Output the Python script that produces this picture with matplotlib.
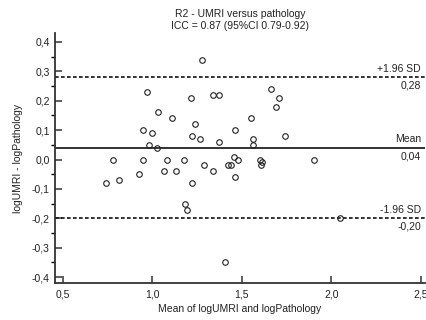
import numpy as np
import matplotlib
matplotlib.use('Agg')
import matplotlib.pyplot as plt
from matplotlib.ticker import MultipleLocator, FuncFormatter

# Bland-Altman data
mean_vals = [1.28, 0.97, 1.215, 1.34, 1.37, 1.66, 1.71, 1.69, 1.035, 1.11,
             1.55, 1.24, 0.95, 1.00, 1.46, 1.22, 1.265, 1.37, 1.565, 1.565,
             1.74, 0.98, 1.025, 0.78, 0.95, 1.08, 1.18, 0.74, 0.815, 0.925,
             1.065, 1.13, 1.22, 1.29, 1.34, 1.42, 1.44, 1.455, 1.48, 1.46,
             1.185, 1.195, 1.60, 1.61, 1.605, 1.90, 2.05, 1.405]
diff_vals = [0.34, 0.23, 0.21, 0.22, 0.22, 0.24, 0.21, 0.18, 0.16, 0.14,
             0.14, 0.12, 0.10, 0.09, 0.10, 0.08, 0.07, 0.06, 0.07, 0.05,
             0.08, 0.05, 0.04, 0.0, 0.0, 0.0, 0.0, -0.08, -0.07, -0.05,
             -0.04, -0.04, -0.08, -0.02, -0.04, -0.02, -0.02, 0.01, 0.0, -0.06,
             -0.15, -0.17, 0.0, -0.01, -0.02, 0.0, -0.20, -0.35]
mean_diff = 0.04
upper_loa = 0.28
lower_loa = -0.20

plt.rcParams['font.family'] = ['Liberation Sans', 'DejaVu Sans']
txt = '#222222'
fs = 7.5

fig = plt.figure(figsize=(4.26, 3.2), dpi=100)
ax = fig.add_axes([0.130, 0.1156, 0.867, 0.781])

ax.plot(mean_vals, diff_vals, 'o', ms=4.0, mfc='none', mec='#222222', mew=0.8,
        zorder=3)

ax.axhline(mean_diff, color='#111111', lw=1.2)
for v in (upper_loa, lower_loa):
    ax.axhline(v, color='#111111', lw=1.2, ls=(0, (2.2, 1.4)))


def comma(v, pos=None):
    return f"{v:.1f}".replace('.', ',')


labels = [(upper_loa, '+1.96 SD'), (mean_diff, 'Mean'), (lower_loa, '-1.96 SD')]
for v, name in labels:
    ax.annotate(name, xy=(0.99, v), xycoords=('axes fraction', 'data'),
                xytext=(0, 2.5), textcoords='offset points', ha='right', va='bottom',
                fontsize=fs, color=txt)
    ax.annotate(f"{v:.2f}".replace('.', ','), xy=(0.99, v),
                xycoords=('axes fraction', 'data'), xytext=(0, -2.5),
                textcoords='offset points', ha='right', va='top',
                fontsize=fs, color=txt)

ax.set_xlim(0.46, 2.52)
ax.set_ylim(-0.42, 0.43)
ax.xaxis.set_major_locator(MultipleLocator(0.5))
ax.yaxis.set_major_locator(MultipleLocator(0.1))
ax.yaxis.set_minor_locator(MultipleLocator(0.05))
ax.xaxis.set_major_formatter(FuncFormatter(comma))
ax.yaxis.set_major_formatter(FuncFormatter(comma))

for s in ('top', 'right'):
    ax.spines[s].set_visible(False)
for s in ('left', 'bottom'):
    ax.spines[s].set_linewidth(1.3)
    ax.spines[s].set_color('#333333')

ax.tick_params(axis='both', direction='in', colors='#333333', labelcolor=txt,
               labelsize=fs, width=1.1)
ax.tick_params(axis='y', which='major', length=5, pad=4)
ax.tick_params(axis='y', which='minor', length=3, width=1.0)
ax.tick_params(axis='x', length=5, pad=5)

ax.set_xlabel('Mean of logUMRI and logPathology', fontsize=fs, color=txt, labelpad=3)
ax.set_ylabel('logUMRI - logPathology', fontsize=fs, color=txt, labelpad=6)
ax.set_title('R2 - UMRI versus pathology\nICC = 0.87 (95%CI 0.79-0.92)',
             fontsize=fs, color=txt, pad=3, linespacing=1.2)

fig.savefig('out.png', dpi=100)
